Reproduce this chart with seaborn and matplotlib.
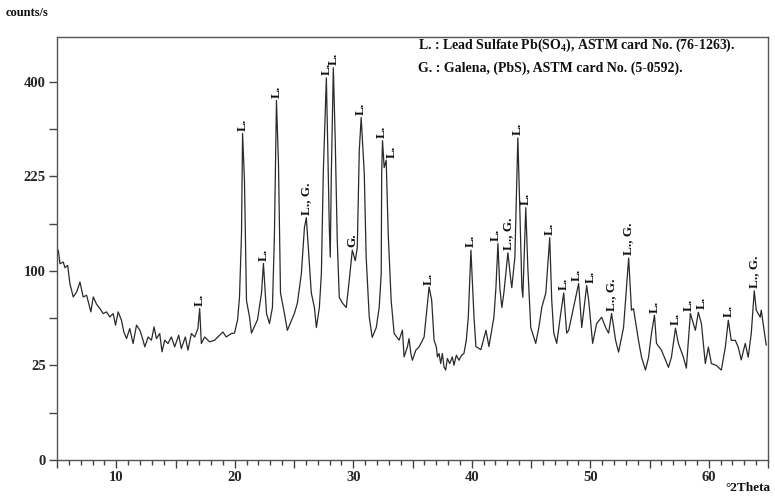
import numpy as np
import matplotlib.pyplot as plt
import seaborn as sns
from matplotlib.ticker import MultipleLocator

# ------------------------------------------------------------
# Data (2theta in degrees, counts/s)
# ------------------------------------------------------------
two_theta = [
    5.00, 5.11, 5.25, 5.53, 5.67, 5.90, 6.09, 6.37, 6.66, 6.94,
    7.21, 7.50, 7.86, 8.06, 8.34, 8.62, 8.90, 9.18, 9.46, 9.74,
    9.94, 10.16, 10.44, 10.64, 10.87, 11.14, 11.42, 11.71, 11.99, 12.18,
    12.41, 12.69, 12.97, 13.19, 13.39, 13.67, 13.86, 14.09, 14.37, 14.65,
    14.93, 15.27, 15.49, 15.83, 16.05, 16.34, 16.62, 16.89, 17.04, 17.18,
    17.46, 17.88, 18.30, 18.58, 19.00, 19.28, 19.71,
    19.98, 20.24, 20.40, 20.57, 20.66, 20.82,
    20.99, 21.25, 21.41, 21.92, 22.26, 22.42, 22.68, 22.93, 23.18, 23.35,
    23.52, 23.69, 23.86, 24.19, 24.44, 25.03, 25.29, 25.62, 25.88, 26.04,
    26.21, 26.46, 26.72, 26.89, 27.14, 27.31, 27.47, 27.73, 27.81, 27.98,
    28.06, 28.15, 28.32, 28.48, 28.65, 28.82, 29.07, 29.41, 29.66, 29.92,
    30.17, 30.34, 30.51, 30.67, 30.93, 31.09, 31.35, 31.60, 31.94, 32.19,
    32.36, 32.40, 32.47, 32.61, 32.78, 32.95, 33.20,
    33.45, 33.87, 34.15, 34.29, 34.57, 34.71, 34.86, 34.99, 35.28, 35.56,
    35.78, 35.98, 36.12, 36.40, 36.62, 36.82, 37.01, 37.10, 37.24, 37.38,
    37.52, 37.66, 37.80, 37.94, 38.14, 38.36, 38.50, 38.70, 38.92, 39.15,
    39.34, 39.54, 39.71,
    39.93, 40.19, 40.35, 40.77, 41.20, 41.45,
    41.87, 42.04, 42.21, 42.37, 42.54, 42.71, 43.05, 43.30, 43.38, 43.64,
    43.89, 44.06, 44.23, 44.31, 44.56, 44.73, 44.98, 45.40, 45.66, 45.91,
    46.25, 46.58, 46.75, 46.92, 47.17, 47.51, 47.76, 48.01, 48.18, 49.02,
    49.28, 49.70, 49.87, 50.20, 50.54, 50.96, 51.30, 51.55, 51.80, 52.14,
    52.39, 52.81, 52.98, 53.24, 53.48, 53.65, 54.07, 54.33, 54.66, 54.92,
    55.17, 55.42, 55.59, 56.01, 56.60, 56.85, 57.19, 57.44, 57.86, 58.11,
    58.45, 58.70, 58.87, 59.12, 59.38, 59.71, 59.97, 60.22, 60.64, 61.06,
    61.40, 61.65, 61.90, 62.24, 62.49, 62.74, 63.08, 63.33, 63.59, 63.84,
    64.01, 64.34, 64.43, 64.76, 64.85,
]
counts = [
    118, 123, 107.7, 109.5, 103.4, 105.9, 86.9, 74.3, 78.9, 88.5,
    74.3, 75.8, 61.3, 74.3, 67.8, 64.1, 59.9, 61.3, 57.2, 59.9,
    50.8, 61.3, 54.6, 45.8, 41.2, 48.3, 37.9, 50.8, 47.1, 42.3,
    35.8, 42.3, 40.1, 49.5, 41.2, 44.7, 32.7, 40.1, 37.9, 42.3,
    35.8, 43.5, 34.7, 42.3, 33.7, 44.7, 42.3, 48.3, 64.1, 37.9,
    42.3, 39.0, 40.1, 42.3, 45.8, 42.3, 44.7,
    45, 55, 74, 143, 298, 218,
    71, 57, 45, 55, 78, 108, 60, 52, 65, 143,
    361, 246, 78, 60, 47, 60, 69, 97, 151, 164,
    126, 78, 65, 49, 65, 97, 229, 408, 316, 151,
    115, 229, 430, 285, 135, 74, 69, 65, 90, 123,
    111, 126, 268, 328, 229, 115, 57, 42, 49, 65,
    97, 229, 285, 239, 251, 143, 71,
    44.7, 40.1, 47.1, 29.7, 35.8, 41.2, 31.7, 27.8, 33.7, 35.8,
    39.0, 42.3, 54.6, 83.6, 71.3, 40.1, 35.8, 29.7, 31.7, 26.0,
    31.7, 24.2, 22.6, 28.8, 26.0, 29.7, 25.1, 30.7, 27.8, 30.7,
    31.7, 40.1, 57.2,
    123, 57, 36, 34, 47, 36,
    57, 83, 131, 83, 65, 78, 120, 90, 83, 115,
    290, 174, 83, 74, 178, 104, 49, 38, 49, 65,
    78, 138, 71, 45, 38, 60, 78, 45, 47, 87,
    49, 85, 71, 38, 52, 57, 49, 45, 60, 40,
    32.5, 49, 71, 114, 62.7, 64, 40, 29.5, 22.6, 29.5,
    45, 58.5, 38, 33.7, 24, 29.5, 48.5, 38, 29.5, 23.6,
    60, 52, 47, 61, 52, 26, 35.6, 26, 25, 22.6,
    35.6, 54.6, 40, 40, 35.6, 28, 38, 29.5, 45, 80,
    62.7, 57, 62.7, 42, 36.8,
]

# Phase labels: where each label sits (2theta, counts) and its text
label_pos = [17.04, 20.66, 22.42, 23.52, 26.04, 27.73, 28.32, 29.92, 30.67,
             32.44, 33.28, 36.40, 39.93, 42.04, 43.05, 43.89, 44.56, 46.58,
             47.76, 48.85, 50.00, 51.80, 53.24, 55.42, 57.19, 58.35, 59.45,
             61.65, 63.84]
label_y = [64, 298, 108, 361, 164, 408, 430, 123, 328,
           285, 250, 83, 123, 131, 120, 290, 178, 138,
           78, 87, 85, 60, 114, 58.5, 48.5, 60, 61,
           54.6, 80]
label_text = ['L.', 'L.', 'L.', 'L.', 'L., G.', 'L.', 'L.', 'G.', 'L.',
              'L.', 'L.', 'L.', 'L.', 'L.', 'L., G.', 'L.', 'L.', 'L.',
              'L.', 'L.', 'L.', 'L., G.', 'L., G.', 'L.', 'L.', 'L.', 'L.',
              'L.', 'L., G.']

y_major = [0, 25, 100, 225, 400]
y_minor = [6.25, 56.25, 156.25, 306.25]
x_major = [5, 10, 15, 20, 25, 30, 35, 40, 45, 50, 55, 60, 65]
x_labels = ['', '10', '', '20', '', '30', '', '40', '', '50', '', '60', '']

legend_lines = [
    r'L. : Lead Sulfate Pb(SO$_\mathbf{4}$), ASTM card No. (76-1263).',
    'G. : Galena, (PbS), ASTM card No. (5-0592).',
]

# ------------------------------------------------------------
# Style
# ------------------------------------------------------------
sns.set_style('ticks')
plt.rcParams['font.family'] = ['Liberation Serif', 'DejaVu Serif']
plt.rcParams['font.weight'] = 'bold'
plt.rcParams['mathtext.fontset'] = 'custom'
plt.rcParams['mathtext.rm'] = 'Liberation Serif:bold'
plt.rcParams['mathtext.bf'] = 'Liberation Serif:bold'

fig = plt.figure(figsize=(7.75, 4.98), dpi=100)
ax = fig.add_axes([57 / 775, 1 - 460 / 498, 711 / 775, 423 / 498])

sns.lineplot(x=two_theta, y=counts, ax=ax, color='#2a2a2a', lw=0.9,
             estimator=None, sort=False)

ax.set_yscale('function', functions=(lambda v: np.sqrt(np.clip(v, 0, None)), np.square))
ax.set_xlim(5, 65)
ax.set_ylim(0, 500)

ax.set_yticks(y_major)
ax.set_yticks(y_minor, minor=True)
ax.set_yticklabels([str(v) for v in y_major])
ax.set_xticks(x_major)
ax.set_xticklabels(x_labels)
ax.xaxis.set_minor_locator(MultipleLocator(1))
ax.tick_params(axis='both', which='major', labelsize=10.5, length=6,
               width=1, color='#444444', pad=2)
ax.tick_params(axis='y', which='minor', length=6, width=1, color='#444444')
ax.tick_params(axis='x', which='minor', length=3.5, width=1, color='#444444')
ax.set_xlabel('')
ax.set_ylabel('')

for side in ['left', 'right', 'top', 'bottom']:
    ax.spines[side].set_visible(True)
    ax.spines[side].set_color('#555555')
    ax.spines[side].set_linewidth(1)

# peak annotations
for xp, yp, txt in zip(label_pos, label_y, label_text):
    ax.annotate(txt, xy=(xp, yp), xytext=(0, 2), textcoords='offset points',
                rotation=90, ha='center', va='bottom', fontsize=9.5,
                fontweight='bold', color='#111111')

# phase key in the upper right
fig.text(418 / 775, 1 - 45 / 498, legend_lines[0], ha='left', va='center',
         fontsize=10, fontweight='bold', color='#111111')
fig.text(418 / 775, 1 - 68 / 498, legend_lines[1], ha='left', va='center',
         fontsize=10, fontweight='bold', color='#111111')

# axis titles
fig.text(6 / 775, 1 - 13 / 498, 'counts/s', ha='left', va='center',
         fontsize=9, fontweight='bold', color='#111111')
fig.text(771 / 775, 1 - 488 / 498, '°2Theta', ha='right', va='center',
         fontsize=9.5, fontweight='bold', color='#111111')

fig.savefig('out.png', dpi=100)
